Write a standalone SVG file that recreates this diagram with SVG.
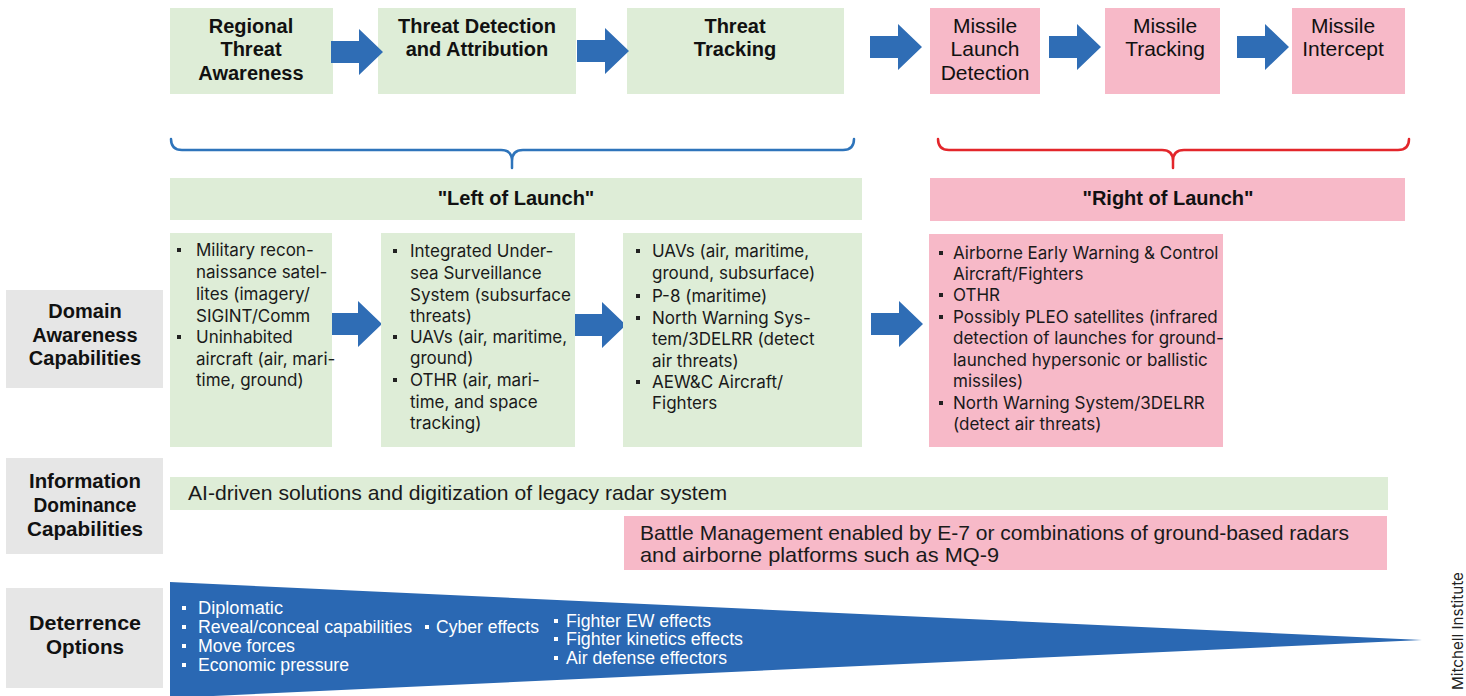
<svg xmlns="http://www.w3.org/2000/svg" width="1466" height="696" viewBox="0 0 1466 696">
<style>
.g{fill:#deedd7}
.p{fill:#f7b9c8}
.gr{fill:#e6e6e6}
.hb{font-family:"Liberation Sans",Arial,sans-serif;font-weight:bold;font-size:20px;text-anchor:middle;fill:#111}
.hr{font-family:"Liberation Sans",Arial,sans-serif;font-size:21px;text-anchor:middle;fill:#111}
.ls{font-family:Inter,"Liberation Sans",sans-serif;font-size:17px;fill:#1a1a1a}
.cd{font-family:"Liberation Sans",Arial,sans-serif;font-size:21px;fill:#1a1a1a}
.tr{font-family:"Liberation Sans",Arial,sans-serif;font-size:18px;fill:#fff}
.b{fill:#222}
.bw{fill:#fff}
.arr{fill:#2f6db5}
.brk{fill:none;stroke-width:2.5;stroke-linecap:round;stroke-linejoin:round}
</style>
<defs>
<path id="arw" d="M0,-11 H28 V-23 L52,0 L28,23 V11 H0 Z"/>
<rect id="bl" x="0" y="-8" width="4" height="4"/>
</defs>
<rect width="1466" height="696" fill="#fff"/>

<!-- Top process row -->
<g id="regional-threat-awareness">
<rect class="g" x="170" y="8" width="163" height="86"/>
<text class="hb" x="251" y="33">Regional</text>
<text class="hb" x="251" y="56">Threat</text>
<text class="hb" x="251" y="80">Awareness</text>
</g>
<g id="threat-detection">
<rect class="g" x="378" y="8" width="198" height="86"/>
<text class="hb" x="477" y="33">Threat Detection</text>
<text class="hb" x="477" y="56">and Attribution</text>
</g>
<g id="threat-tracking">
<rect class="g" x="627" y="8" width="217" height="86"/>
<text class="hb" x="735" y="33">Threat</text>
<text class="hb" x="735" y="56">Tracking</text>
</g>
<g id="missile-launch-detection">
<rect class="p" x="930" y="8" width="110" height="86"/>
<text class="hr" x="985" y="33">Missile</text>
<text class="hr" x="985" y="56">Launch</text>
<text class="hr" x="985" y="80">Detection</text>
</g>
<g id="missile-tracking">
<rect class="p" x="1105" y="8" width="115" height="86"/>
<text class="hr" x="1165" y="33">Missile</text>
<text class="hr" x="1165" y="56">Tracking</text>
</g>
<g id="missile-intercept">
<rect class="p" x="1292" y="8" width="113" height="86"/>
<text class="hr" x="1343" y="33">Missile</text>
<text class="hr" x="1343" y="56">Intercept</text>
</g>

<!-- Connectors -->
<g id="connectors" class="arr">
<use href="#arw" transform="translate(331,52)"/>
<use href="#arw" transform="translate(577,51)"/>
<use href="#arw" transform="translate(870,47)"/>
<use href="#arw" transform="translate(1049,47)"/>
<use href="#arw" transform="translate(1237,47)"/>
<use href="#arw" transform="translate(330,324)"/>
<use href="#arw" transform="translate(574,325)"/>
<use href="#arw" transform="translate(871,324)"/>
<path class="brk" stroke="#2e74bb" d="M171,139 Q171,150 182,150 H501 Q512,150 512,161 V168 M512,161 Q512,150 523,150 H843 Q854,150 854,139"/>
<path class="brk" stroke="#e3262b" d="M938,139 Q938,150 949,150 H1162 Q1173,150 1173,161 V168 M1173,161 Q1173,150 1184,150 H1398 Q1409,150 1409,139"/>
</g>

<!-- Left / Right of launch -->
<g id="left-of-launch">
<rect class="g" x="170" y="178" width="692" height="42"/>
<text class="hb" x="516" y="205">"Left of Launch"</text>
</g>
<g id="right-of-launch">
<rect class="p" x="930" y="178" width="475" height="43"/>
<text class="hb" x="1168" y="205">"Right of Launch"</text>
</g>

<!-- Row labels -->
<g id="domain-awareness-label">
<rect class="gr" x="6" y="290" width="157" height="98"/>
<text class="hb" x="85" y="318">Domain</text>
<text class="hb" x="85" y="342">Awareness</text>
<text class="hb" x="85" y="365">Capabilities</text>
</g>
<g id="information-dominance-label">
<rect class="gr" x="6" y="458" width="157" height="96"/>
<text class="hb" x="85" y="488" textLength="112" lengthAdjust="spacingAndGlyphs" style="font-size:21px">Information</text>
<text class="hb" x="85" y="512" textLength="103" lengthAdjust="spacingAndGlyphs" style="font-size:21px">Dominance</text>
<text class="hb" x="85" y="536" textLength="116" lengthAdjust="spacingAndGlyphs" style="font-size:21px">Capabilities</text>
</g>
<g id="deterrence-label">
<rect class="gr" x="6" y="588" width="157" height="100"/>
<text class="hb" x="85" y="630" textLength="112" lengthAdjust="spacingAndGlyphs" style="font-size:21px">Deterrence</text>
<text class="hb" x="85" y="654" textLength="78" lengthAdjust="spacingAndGlyphs" style="font-size:21px">Options</text>
</g>

<!-- Domain awareness lists -->
<g id="list-regional">
<rect class="g" x="170" y="233" width="162" height="214"/>
<use href="#bl" class="b" x="177" y="256"/>
<use href="#bl" class="b" x="177" y="343"/>
<text class="ls" x="196" y="256">Military recon-</text>
<text class="ls" x="196" y="278">naissance satel-</text>
<text class="ls" x="196" y="300">lites (imagery/</text>
<text class="ls" x="196" y="322">SIGINT/Comm</text>
<text class="ls" x="196" y="343">Uninhabited</text>
<text class="ls" x="196" y="365">aircraft (air, mari-</text>
<text class="ls" x="196" y="386">time, ground)</text>
</g>
<g id="list-detection">
<rect class="g" x="381" y="233" width="194" height="214"/>
<use href="#bl" class="b" x="393" y="257"/>
<use href="#bl" class="b" x="393" y="343"/>
<use href="#bl" class="b" x="393" y="386"/>
<text class="ls" x="410" y="257">Integrated Under-</text>
<text class="ls" x="410" y="279">sea Surveillance</text>
<text class="ls" x="410" y="301">System (subsurface</text>
<text class="ls" x="410" y="322">threats)</text>
<text class="ls" x="410" y="343">UAVs (air, maritime,</text>
<text class="ls" x="410" y="364">ground)</text>
<text class="ls" x="410" y="386">OTHR (air, mari-</text>
<text class="ls" x="410" y="408">time, and space</text>
<text class="ls" x="410" y="429">tracking)</text>
</g>
<g id="list-tracking">
<rect class="g" x="623" y="233" width="239" height="214"/>
<use href="#bl" class="b" x="636" y="257"/>
<use href="#bl" class="b" x="636" y="302"/>
<use href="#bl" class="b" x="636" y="324"/>
<use href="#bl" class="b" x="636" y="388"/>
<text class="ls" x="652" y="257">UAVs (air, maritime,</text>
<text class="ls" x="652" y="279">ground, subsurface)</text>
<text class="ls" x="652" y="302">P-8 (maritime)</text>
<text class="ls" x="652" y="324">North Warning Sys-</text>
<text class="ls" x="652" y="345">tem/3DELRR (detect</text>
<text class="ls" x="652" y="367">air threats)</text>
<text class="ls" x="652" y="388">AEW&amp;C Aircraft/</text>
<text class="ls" x="652" y="409">Fighters</text>
</g>
<g id="list-launch">
<rect class="p" x="929" y="234" width="294" height="213"/>
<use href="#bl" class="b" x="939" y="259"/>
<use href="#bl" class="b" x="939" y="301"/>
<use href="#bl" class="b" x="939" y="323"/>
<use href="#bl" class="b" x="939" y="409"/>
<text class="ls" x="953" y="259">Airborne Early Warning &amp; Control</text>
<text class="ls" x="953" y="280">Aircraft/Fighters</text>
<text class="ls" x="953" y="301">OTHR</text>
<text class="ls" x="953" y="323">Possibly PLEO satellites (infrared</text>
<text class="ls" x="953" y="344">detection of launches for ground-</text>
<text class="ls" x="953" y="366">launched hypersonic or ballistic</text>
<text class="ls" x="953" y="387">missiles)</text>
<text class="ls" x="953" y="409">North Warning System/3DELRR</text>
<text class="ls" x="953" y="430">(detect air threats)</text>
</g>

<!-- Information dominance bars -->
<g id="ai-driven">
<rect class="g" x="170" y="477" width="1218" height="33"/>
<text class="cd" x="188" y="500" textLength="539" lengthAdjust="spacingAndGlyphs">AI-driven solutions and digitization of legacy radar system</text>
</g>
<g id="battle-management">
<rect class="p" x="624" y="516" width="763" height="54"/>
<text class="cd" x="640" y="540" textLength="709" lengthAdjust="spacingAndGlyphs">Battle Management enabled by E-7 or combinations of ground-based radars</text>
<text class="cd" x="640" y="562" textLength="359" lengthAdjust="spacingAndGlyphs">and airborne platforms such as MQ-9</text>
</g>

<!-- Deterrence wedge -->
<g id="deterrence-wedge">
<polygon points="170,582 1422,640 170,698" fill="#2a68b3"/>
<use href="#bl" class="bw" x="182" y="614"/>
<use href="#bl" class="bw" x="182" y="633"/>
<use href="#bl" class="bw" x="182" y="652"/>
<use href="#bl" class="bw" x="182" y="671"/>
<use href="#bl" class="bw" x="425" y="633"/>
<use href="#bl" class="bw" x="554" y="627"/>
<use href="#bl" class="bw" x="554" y="645"/>
<use href="#bl" class="bw" x="554" y="664"/>
<text class="tr" x="198" y="614" textLength="85" lengthAdjust="spacingAndGlyphs">Diplomatic</text>
<text class="tr" x="198" y="633" textLength="214" lengthAdjust="spacingAndGlyphs">Reveal/conceal capabilities</text>
<text class="tr" x="198" y="652" textLength="97" lengthAdjust="spacingAndGlyphs">Move forces</text>
<text class="tr" x="198" y="671" textLength="151" lengthAdjust="spacingAndGlyphs">Economic pressure</text>
<text class="tr" x="436" y="633" textLength="103" lengthAdjust="spacingAndGlyphs">Cyber effects</text>
<text class="tr" x="566" y="627" textLength="145" lengthAdjust="spacingAndGlyphs">Fighter EW effects</text>
<text class="tr" x="566" y="645" textLength="177" lengthAdjust="spacingAndGlyphs">Fighter kinetics effects</text>
<text class="tr" x="566" y="664" textLength="161" lengthAdjust="spacingAndGlyphs">Air defense effectors</text>
</g>

<text x="1463" y="631" transform="rotate(-90 1463 631)" text-anchor="middle" textLength="118" lengthAdjust="spacingAndGlyphs" style="font-family:Inter,'Liberation Sans',sans-serif;font-size:15px;fill:#222">Mitchell Institute</text>
</svg>
